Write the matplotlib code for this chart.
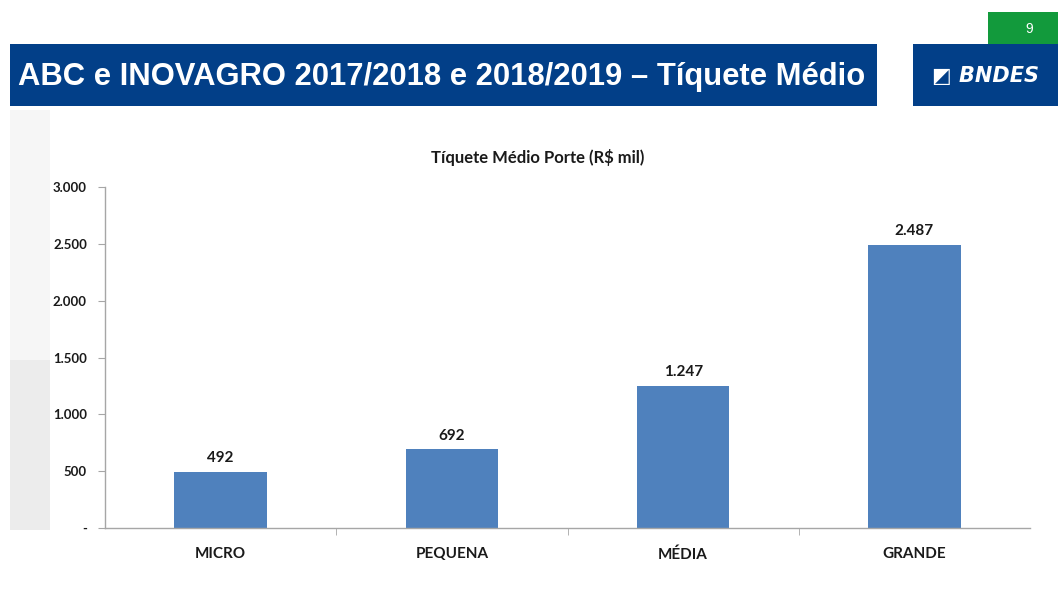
import matplotlib.pyplot as plt
from matplotlib.patches import Rectangle
from matplotlib.ticker import FuncFormatter

categories = ['MICRO', 'PEQUENA', 'MÉDIA', 'GRANDE']
valores = [492, 692, 1247, 2487]
yticks = [0, 500, 1000, 1500, 2000, 2500, 3000]

W, H = 1058, 599
fig = plt.figure(figsize=(W / 100, H / 100), dpi=100)
fig.patch.set_facecolor('white')


def px(x0, y0, x1, y1):
    # pixel box -> figure fraction rect
    return (x0 / W, 1 - y1 / H, (x1 - x0) / W, (y1 - y0) / H)


def caixa(box, c, z=1):
    x, y, w, h = px(*box)
    fig.patches.append(Rectangle((x, y), w, h, transform=fig.transFigure,
                                 facecolor=c, edgecolor='none', zorder=z))


# faint background shading of the slide (behind the axes)
caixa((10, 360, 50, 530), '#ececec', -1)
caixa((10, 110, 50, 360), '#f6f6f6', -1)

# header band
caixa((10, 44, 877, 106), '#023f88')
fig.text(18 / W, 1 - 77 / H, 'ABC e INOVAGRO 2017/2018 e 2018/2019 – Tíquete Médio',
         color='white', fontsize=22.3, fontweight='bold', family='Liberation Sans',
         va='center', ha='left')

# logo box
caixa((913, 44, 1058, 106), '#023f88')
fig.text(985 / W, 1 - 76 / H, '◩ BNDES', color='white', fontsize=15,
         fontweight='bold', style='italic', family='DejaVu Sans',
         va='center', ha='center')

# page number
caixa((988, 12, 1058, 44), '#129a3c')
fig.text(1029 / W, 1 - 29 / H, '9', color='white', fontsize=10,
         family='Liberation Sans', va='center', ha='center')

ax = fig.add_axes([105 / W, 1 - 528 / H, (1030 - 105) / W, (528 - 187) / H])
ax.set_facecolor('none')
pos = range(len(categories))
bars = ax.bar(pos, valores, width=0.4, color='#4f81bd', zorder=2)

ax.set_xlim(-0.5, len(categories) - 0.5)
ax.set_ylim(0, 3000)
ax.set_yticks(yticks)
ax.yaxis.set_major_formatter(FuncFormatter(
    lambda v, p: '-' if v == 0 else f'{int(v):,}'.replace(',', '.')))
ax.set_xticks(list(pos))
ax.set_xticklabels(categories)
ax.set_xticks([i + 0.5 for i in range(len(categories) - 1)], minor=True)

for s in ['top', 'right']:
    ax.spines[s].set_visible(False)
for s in ['left', 'bottom']:
    ax.spines[s].set_color('#a6a6a6')
    ax.spines[s].set_linewidth(1)

ax.tick_params(axis='y', length=5, color='#a6a6a6', labelsize=9.5, pad=8)
ax.tick_params(axis='x', which='major', length=0, labelsize=11, pad=14)
ax.tick_params(axis='x', which='minor', length=5, color='#a6a6a6')
for lab in ax.get_yticklabels() + ax.get_xticklabels():
    lab.set_fontfamily('Lato')
    lab.set_fontweight('bold')
    lab.set_color('#1a1a1a')

for b, v in zip(bars, valores):
    ax.text(b.get_x() + b.get_width() / 2, v + 60, f'{v:,}'.replace(',', '.'),
            ha='center', va='bottom', fontsize=11, fontweight='bold',
            family='Lato', color='#1a1a1a')

fig.text(538 / W, 1 - 157 / H, 'Tíquete Médio Porte (R$ mil)', ha='center',
         va='center', fontsize=12, fontweight='bold', family='Lato', color='#1a1a1a')

fig.savefig('out.png', dpi=100)
